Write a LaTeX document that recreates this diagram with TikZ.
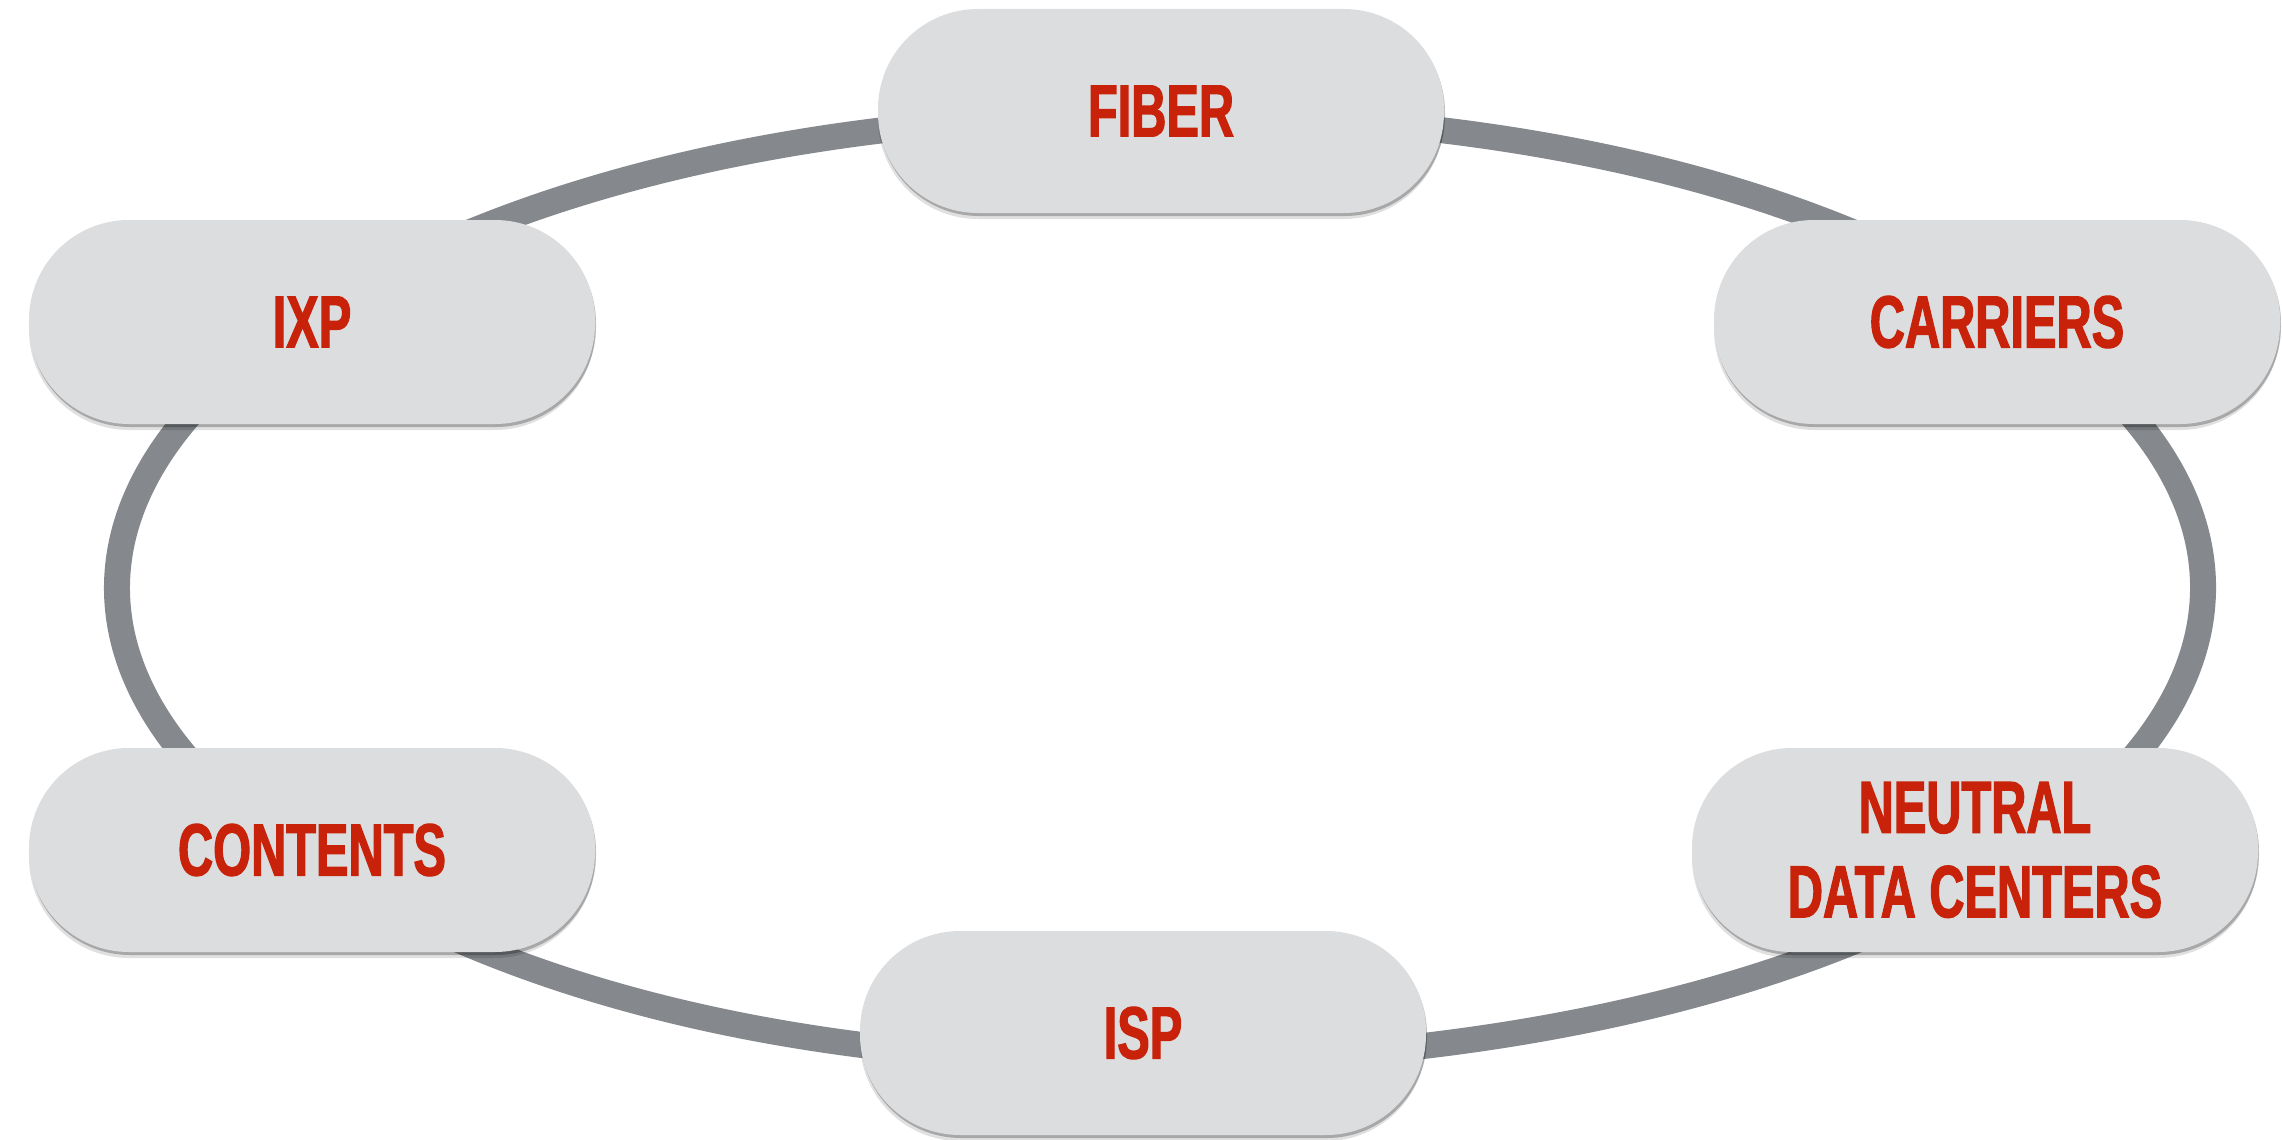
\documentclass[tikz,border=0pt]{standalone}
\usepackage{fontspec}
\usepackage{xcolor}
\usepackage{tikz}
\usetikzlibrary{shadows,backgrounds}
\newfontfamily\ringfont[FakeStretch=0.66,FakeBold=1.6]{Liberation Sans}
\definecolor{ringgray}{HTML}{85888C}
\definecolor{boxgray}{HTML}{DCDDDF}
\definecolor{labelred}{HTML}{C8230A}

\begin{document}
\begin{tikzpicture}[
  hub/.style={fill=boxgray, rounded corners=1cm, minimum width=5.66cm, minimum height=2.04cm,
    align=center, text=labelred, font=\ringfont\bfseries\fontsize{21}{24}\selectfont,
    drop shadow={shadow xshift=0cm, shadow yshift=-0.06cm, opacity=0.12, fill=black},
    drop shadow={shadow xshift=0.01cm, shadow yshift=-0.03cm, opacity=0.25, fill=black}},
  ring/.style={draw=ringgray, line width=0.26cm}]
\useasboundingbox (0,0) rectangle (22.82,11.39);

\node[hub] (fiber) at (11.61,10.28) {FIBER};
\node[hub] (carriers) at (19.97,8.17) {CARRIERS};
\node[hub] (neutral) at (19.75,2.89) {NEUTRAL\\DATA CENTERS};
\node[hub] (isp) at (11.43,1.06) {ISP};
\node[hub] (contents) at (3.12,2.89) {CONTENTS};
\node[hub] (ixp) at (3.12,8.17) {IXP};

\begin{pgfonlayer}{background}
\draw[ring] ([yshift=-0.03cm]fiber.center) to[out=0, in=148.5, out distance=3.40cm, in distance=2.40cm] ([yshift=0.17cm]carriers.center);
\draw[ring] ([yshift=0.17cm]carriers.center) to[out=-31.5, in=29.7, out distance=3.32cm, in distance=3.40cm] ([yshift=-0.33cm]neutral.center);
\draw[ring] ([yshift=-0.33cm]neutral.center) to[out=209.7, in=0, out distance=2.35cm, in distance=3.28cm] ([yshift=-0.29cm]isp.center);
\draw[ring] ([yshift=-0.29cm]isp.center) to[out=180, in=-32.4, out distance=3.46cm, in distance=2.40cm] ([yshift=-0.13cm]contents.center);
\draw[ring] ([yshift=-0.13cm]contents.center) to[out=147.6, in=-147.6, distance=3.08cm] ([yshift=0.09cm]ixp.center);
\draw[ring] ([yshift=0.09cm]ixp.center) to[out=32.4, in=180, out distance=2.40cm, in distance=3.46cm] ([yshift=-0.03cm]fiber.center);
\end{pgfonlayer}

\end{tikzpicture}
\end{document}
